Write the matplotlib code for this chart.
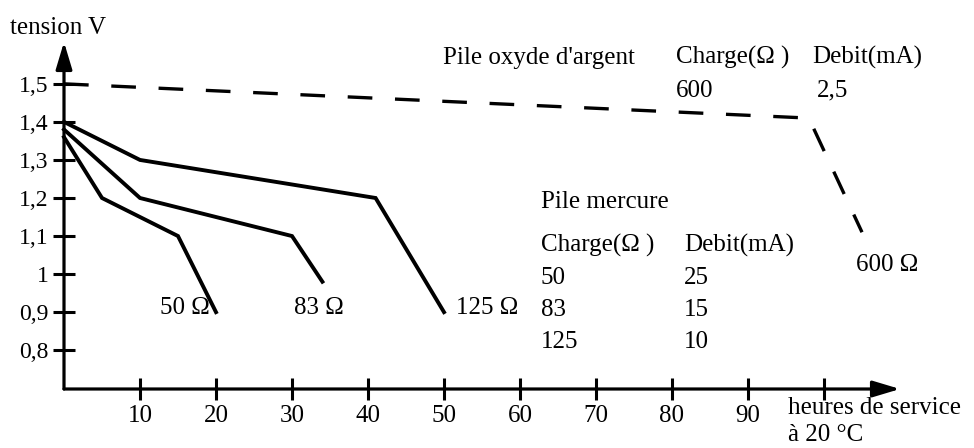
import matplotlib.pyplot as plt

# discharge curves, mercury cells (hours, volts)
hours_50 = [0, 5, 15, 20]
volts_50 = [1.36, 1.2, 1.1, 0.9]
hours_83 = [0, 10, 30, 34]
volts_83 = [1.38, 1.2, 1.1, 0.98]
hours_125 = [0, 10, 41, 50]
volts_125 = [1.4, 1.3, 1.2, 0.9]

# silver oxide cell, 600 ohm
hours_ag = [0, 98, 105]
volts_ag = [1.5, 1.41, 1.11]

# load tables
hg_charge = ["50", "83", "125"]
hg_debit = ["25", "15", "10"]
ag_charge = "600"
ag_debit = "2,5"

yticks = [0.8, 0.9, 1.0, 1.1, 1.2, 1.3, 1.4, 1.5]
ytick_labels = ["0,8", "0,9", "1", "1,1", "1,2", "1,3", "1,4", "1,5"]
xticks = [10, 20, 30, 40, 50, 60, 70, 80, 90, 100]
xtick_labels = ["10", "20", "30", "40", "50", "60", "70", "80", "90", ""]

plt.rc("font", family="Liberation Serif", size=18)

fig = plt.figure(figsize=(9.74, 4.48), dpi=100)
ax = fig.add_axes([64 / 974, 59 / 448, 836 / 974, 347 / 448])
ax.set_xlim(0, 110)
ax.set_ylim(0.698, 1.61)

lw = 2.8
for h, v in [(hours_50, volts_50), (hours_83, volts_83), (hours_125, volts_125)]:
    ax.plot(h, v, color="black", lw=lw, solid_joinstyle="miter", clip_on=False)
ax.plot(hours_ag, volts_ag, color="black", lw=2.4, linestyle=(0, (7.4, 6.8)),
        clip_on=False)

# axes drawn as arrows
for s in ax.spines.values():
    s.set_visible(False)
arr = dict(arrowstyle="-|>,head_length=1.1,head_width=0.33", lw=2.3,
           color="black", mutation_scale=15, shrinkA=0, shrinkB=0)
ax.annotate("", xy=(110, 0.698), xytext=(0, 0.698), arrowprops=arr,
            annotation_clip=False)
ax.annotate("", xy=(0, 1.61), xytext=(0, 0.698), arrowprops=arr,
            annotation_clip=False)

ax.set_xticks(xticks, xtick_labels)
ax.set_yticks(yticks, ytick_labels)
ax.tick_params(direction="inout", length=16.5, width=2.2, pad=3)
ax.tick_params(axis="x", labelsize=18)
ax.tick_params(axis="y", labelsize=17)

ax.text(-7.1, 1.631, "tension V", va="baseline", ha="left", clip_on=False)

# silver oxide legend
ax.text(49.9, 1.552, "Pile oxyde d'argent", va="baseline")
ax.text(80.5, 1.552, "Charge(\u03a9 )", va="baseline")
ax.text(98.5, 1.552, "Debit(mA)", va="baseline")
ax.text(80.5, 1.466, ag_charge, va="baseline")
ax.text(99.1, 1.466, ag_debit, va="baseline")
ax.text(104.2, 1.007, "600 \u03a9", va="baseline", clip_on=False)

# mercury legend
ax.text(62.7, 1.175, "Pile mercure", va="baseline")
ax.text(62.7, 1.058, "Charge(\u03a9 )", va="baseline")
ax.text(81.6, 1.058, "Debit(mA)", va="baseline")
for i, (c, d) in enumerate(zip(hg_charge, hg_debit)):
    yb = 0.975 - i * 0.084
    ax.text(62.7, yb, c, va="baseline")
    ax.text(81.6, yb, d, va="baseline")

# curve labels
ax.text(12.6, 0.896, "50 \u03a9", va="baseline")
ax.text(30.2, 0.896, "83 \u03a9", va="baseline")
ax.text(51.6, 0.896, "125 \u03a9", va="baseline")

ax.text(95.3, 0.631, "heures de service", va="baseline", clip_on=False)
ax.text(95.3, 0.562, "\u00e0 20 \u00b0C", va="baseline", clip_on=False)

fig.savefig("out.png", dpi=100)
